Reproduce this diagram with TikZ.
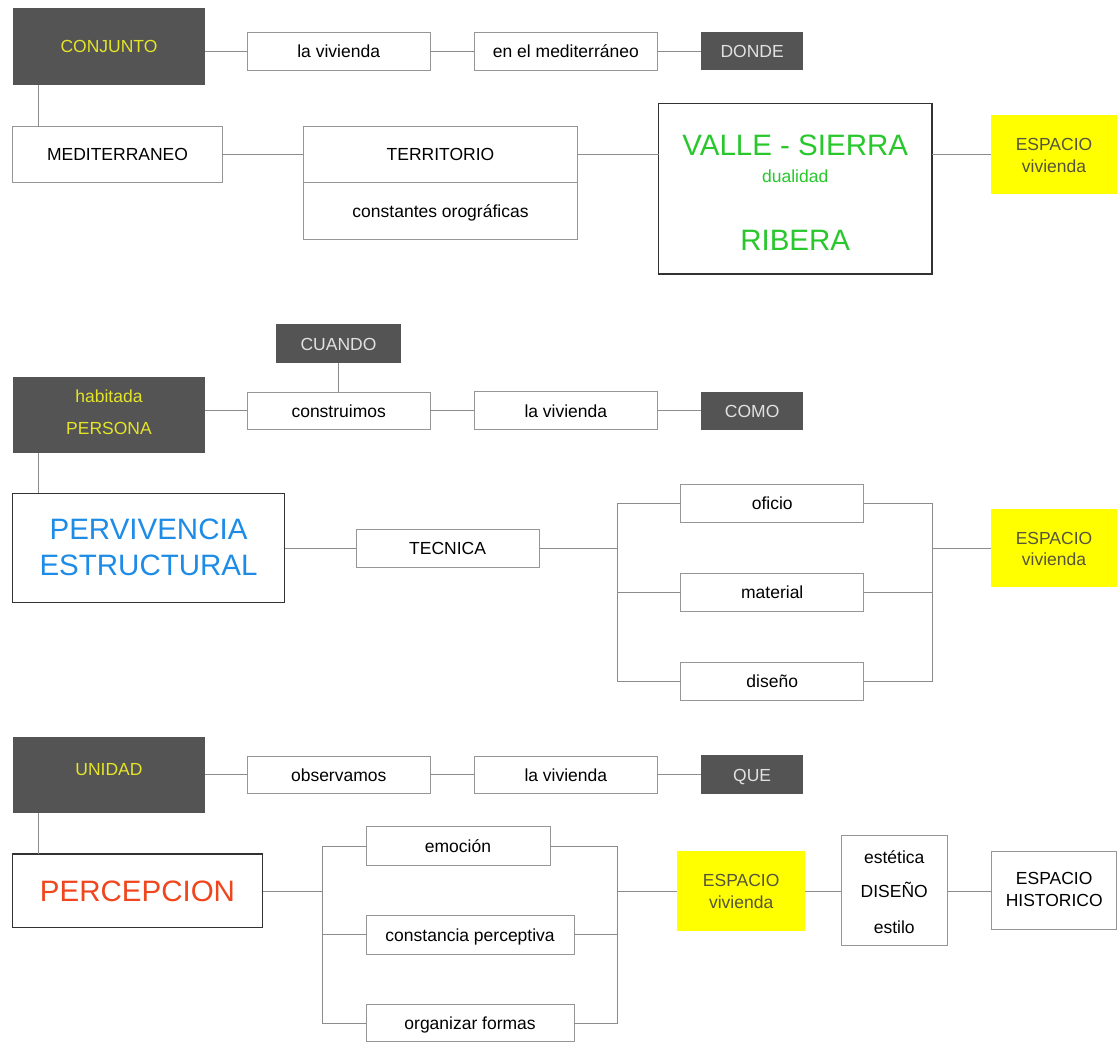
\documentclass[tikz,border=0pt]{standalone}
\usepackage{fontspec}
\setmainfont{Liberation Sans}
\definecolor{darkbox}{RGB}{84,84,84}
\definecolor{boxline}{RGB}{150,150,150}
\definecolor{bigline}{RGB}{50,50,50}
\definecolor{connline}{RGB}{140,140,140}
\definecolor{espyellow}{RGB}{255,255,0}
\definecolor{esptext}{RGB}{85,85,60}
\definecolor{ytext}{RGB}{228,228,40}
\definecolor{wtext}{RGB}{225,225,225}
\definecolor{vgreen}{RGB}{40,200,45}
\definecolor{pblue}{RGB}{30,140,230}
\definecolor{pred}{RGB}{240,70,30}
\tikzset{
  basic/.style={inner sep=0pt, outer sep=0pt, anchor=center, font=\fontsize{17.5}{21}\selectfont, text height=12.5pt, text depth=0pt},
  wbox/.style={basic, draw=boxline, line width=1pt, fill=white},
  dbox/.style={basic, fill=darkbox},
  ybox/.style={basic, fill=espyellow},
  bigbox/.style={basic, draw=bigline, line width=1.5pt, fill=white},
  lbl/.style={inner sep=0pt, outer sep=0pt, anchor=base, font=\fontsize{17.5}{21}\selectfont},
  biglbl/.style={lbl, font=\fontsize{29.5}{35}\selectfont},
  conn/.style={draw=connline, line width=1pt},
}
\begin{document}
\begin{tikzpicture}[x=1pt,y=-1pt]
\fill[white] (0,0) rectangle (1117,1042);
\useasboundingbox (0,0) rectangle (1117,1042);

% ---------- Row 1 ----------
\node[dbox, minimum width=192.9pt, minimum height=76.7pt] (conj) at (108.95,46.65) {};
\node[lbl, text=ytext] (conjt) at (108.95,52.3) {CONJUNTO};
\node[wbox, minimum width=183.4pt, minimum height=38pt] (viv1) at (338.7,51) {la vivienda};
\node[wbox, minimum width=183.7pt, minimum height=38pt] (med1) at (565.85,51) {en el mediterráneo};
\node[dbox, minimum width=101.6pt, minimum height=38.6pt, text=wtext] (donde) at (752.2,51) {DONDE};
\node[wbox, minimum width=210pt, minimum height=56pt] (medit) at (117.5,154.7) {MEDITERRANEO};
\node[wbox, minimum width=274.6pt, minimum height=56pt] (terr) at (440.5,154.7) {TERRITORIO};
\node[wbox, minimum width=274.6pt, minimum height=56.6pt] (const) at (440.5,211) {constantes orográficas};
\node[bigbox, minimum width=273.4pt, minimum height=170.5pt] (valle) at (795.2,188.5) {};
\node[biglbl, text=vgreen] (vallet) at (795.2,155.6) {VALLE - SIERRA};
\node[lbl, text=vgreen] (dual) at (795.2,182) {dualidad};
\node[biglbl, text=vgreen] (ribera) at (795.2,250.6) {RIBERA};
\node[ybox, minimum width=126.1pt, minimum height=79pt] (esp1) at (1054,154.5) {};
\node[lbl, text=esptext] (esp1a) at (1054,150.3) {ESPACIO};
\node[lbl, text=esptext] (esp1b) at (1054,172) {vivienda};

\draw[conn] (conj.east |- viv1.west) -- (viv1.west);
\draw[conn] (viv1.east) -- (med1.west);
\draw[conn] (med1.east) -- (donde.west);
\draw[conn] (conj.south -| 38.2,0) -- (medit.north -| 38.2,0);
\draw[conn] (medit.east) -- (terr.west);
\draw[conn] (terr.east) -- (terr.east -| valle.west);
\draw[conn] (valle.east |- esp1.west) -- (esp1.west);

% ---------- Row 2 ----------
\node[dbox, minimum width=125pt, minimum height=39pt, text=wtext] (cuando) at (338.5,343.8) {CUANDO};
\node[dbox, minimum width=192.9pt, minimum height=76.6pt] (persona) at (108.95,415) {};
\node[lbl, text=ytext] (habit) at (108.95,402) {habitada};
\node[lbl, text=ytext] (perst) at (108.95,434) {PERSONA};
\node[wbox, minimum width=183.4pt, minimum height=37pt] (constr) at (338.7,410.8) {construimos};
\node[wbox, minimum width=183.7pt, minimum height=38.3pt] (viv2) at (565.85,410.8) {la vivienda};
\node[dbox, minimum width=101.6pt, minimum height=38.3pt, text=wtext] (como) at (752.2,410.8) {COMO};
\node[bigbox, minimum width=272.1pt, minimum height=109.4pt] (perv) at (148.55,548) {};
\node[biglbl, text=pblue] (perva) at (148.55,539.9) {PERVIVENCIA};
\node[biglbl, text=pblue] (pervb) at (148.55,575.6) {ESTRUCTURAL};
\node[wbox, minimum width=183.3pt, minimum height=38.4pt] (tecnica) at (447.65,548.3) {TECNICA};
\node[wbox, minimum width=182.9pt, minimum height=38.4pt] (oficio) at (772.25,503.5) {oficio};
\node[wbox, minimum width=182.9pt, minimum height=38pt] (material) at (772.25,592.7) {material};
\node[wbox, minimum width=182.9pt, minimum height=38pt] (diseno) at (772.25,681.3) {diseño};
\node[ybox, minimum width=126.1pt, minimum height=78.3pt] (esp2) at (1054,548.15) {};
\node[lbl, text=esptext] (esp2a) at (1054,544) {ESPACIO};
\node[lbl, text=esptext] (esp2b) at (1054,565.3) {vivienda};
\coordinate (bl2) at (617.5,548.3);
\coordinate (br2) at (932,548.3);

\draw[conn] (cuando.south -| constr.north) -- (constr.north);
\draw[conn] (persona.east |- constr.west) -- (constr.west);
\draw[conn] (constr.east) -- (viv2.west);
\draw[conn] (viv2.east) -- (como.west);
\draw[conn] (persona.south -| 38.2,0) -- (perv.north -| 38.2,0);
\draw[conn] (perv.east |- tecnica.west) -- (tecnica.west);
\draw[conn] (tecnica.east) -- (bl2);
\draw[conn] (oficio.west) -| (bl2 |- diseno.west) -- (diseno.west);
\draw[conn] (bl2 |- material.west) -- (material.west);
\draw[conn] (oficio.east) -| (br2 |- diseno.east) -- (diseno.east);
\draw[conn] (material.east) -- (br2 |- material.east);
\draw[conn] (br2) -- (esp2.west |- br2);

% ---------- Row 3 ----------
\node[dbox, minimum width=192.9pt, minimum height=76.6pt] (unidad) at (108.95,775) {};
\node[lbl, text=ytext] (unidt) at (108.95,775.6) {UNIDAD};
\node[wbox, minimum width=183.4pt, minimum height=37pt] (obs) at (338.7,774.8) {observamos};
\node[wbox, minimum width=183.7pt, minimum height=37pt] (viv3) at (565.85,774.8) {la vivienda};
\node[dbox, minimum width=101.6pt, minimum height=39.3pt, text=wtext] (que) at (752.2,774.8) {QUE};
\node[bigbox, minimum width=250pt, minimum height=73.3pt, text height=21.1pt, font=\fontsize{29.5}{35}\selectfont, text=pred] (perc) at (137.5,890.65) {PERCEPCION};
\node[wbox, minimum width=184pt, minimum height=39pt] (emocion) at (458,846.2) {emoción};
\node[wbox, minimum width=208.2pt, minimum height=38.3pt] (constp) at (470.1,934.85) {constancia perceptiva};
\node[wbox, minimum width=208.2pt, minimum height=37.4pt] (organ) at (470.1,1023) {organizar formas};
\node[ybox, minimum width=127.9pt, minimum height=80pt] (esp3) at (741.15,890.7) {};
\node[lbl, text=esptext] (esp3a) at (741.15,886.3) {ESPACIO};
\node[lbl, text=esptext] (esp3b) at (741.15,908.6) {vivienda};
\node[wbox, minimum width=105.9pt, minimum height=109.6pt] (disbox) at (894.25,890.5) {};
\node[lbl] (estet) at (894.25,863) {estética};
\node[lbl] (disen) at (894.25,897.3) {DISEÑO};
\node[lbl] (estil) at (894.25,933) {estilo};
\node[wbox, minimum width=125pt, minimum height=78.3pt] (hist) at (1054.2,890.15) {};
\node[lbl] (hista) at (1054.2,884.6) {ESPACIO};
\node[lbl] (histb) at (1054.2,906.3) {HISTORICO};
\coordinate (bl3) at (322.5,891);
\coordinate (br3) at (617.5,891);

\draw[conn] (unidad.east |- obs.west) -- (obs.west);
\draw[conn] (obs.east) -- (viv3.west);
\draw[conn] (viv3.east) -- (que.west);
\draw[conn] (unidad.south -| 38.2,0) -- (perc.north -| 38.2,0);
\draw[conn] (perc.east |- bl3) -- (bl3);
\draw[conn] (emocion.west) -| (bl3 |- organ.west) -- (organ.west);
\draw[conn] (bl3 |- constp.west) -- (constp.west);
\draw[conn] (emocion.east) -| (br3 |- organ.east) -- (organ.east);
\draw[conn] (constp.east) -- (br3 |- constp.east);
\draw[conn] (br3) -- (esp3.west |- br3);
\draw[conn] (esp3.east |- br3) -- (disbox.west |- br3);
\draw[conn] (disbox.east |- br3) -- (hist.west |- br3);
\end{tikzpicture}
\end{document}
